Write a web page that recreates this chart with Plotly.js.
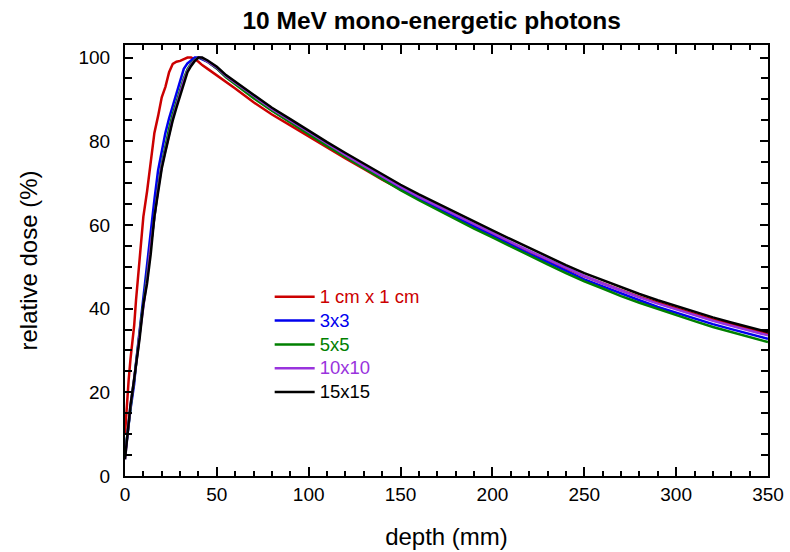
<!DOCTYPE html>
<html>
<head>
<meta charset="utf-8">
<script src="https://cdn.plot.ly/plotly-3.0.1.min.js"></script>
<style>html,body{margin:0;padding:0;background:#fff;}#chart{width:790px;height:552px;}</style>
</head>
<body>
<div id="chart"></div>
<script>
const depth = [0,1,2,3,4,5,6,7,8,9,10,12,14,16,18,20,22,24,26,28,30,32,34,36,38,40,42,45,50,55,60,70,80,90,100,110,120,130,140,150,160,170,180,190,200,210,220,230,240,250,260,270,280,290,300,310,320,330,340,350];

const dose1x1 = [10,17,23,28,32,36,42,47,52,57,62,68,75,82,86,90.5,93,96.5,98.5,99,99.2,99.6,100,100,99.6,99,98.2,97.3,95.8,94.2,92.6,89.3,86.4,83.8,81.1,78.5,75.9,73.4,70.8,68.5,66.2,64.0,61.8,59.7,57.7,55.7,53.6,51.7,49.6,47.7,46.0,44.4,42.8,41.4,40.0,38.7,37.4,36.3,35.1,34.0];

const dose3x3 = [5,9,13,16,19,22,27,31,35,38,42,50,59,66,73,78,82,85.5,88.5,91.5,94.5,97.3,98.6,99.3,100,100,99.6,99.0,97.4,95.4,93.8,90.5,87.4,84.7,81.9,79.1,76.4,73.7,71.1,68.6,66.2,64.0,61.8,59.5,57.4,55.3,53.1,51.1,49.0,47.0,45.3,43.6,42.0,40.4,39.0,37.6,36.3,35.1,33.9,32.8];

const dose5x5 = [5,9,13,17,20,23,27,30,34,38,41,48,56,63,69,74.5,79,83,86.5,89.5,92.5,95,97.2,98.6,99.5,100,99.8,99.0,97.4,95.3,93.6,90.3,87.3,84.6,81.7,78.9,76.2,73.5,70.8,68.3,65.9,63.6,61.4,59.1,57.0,54.8,52.7,50.6,48.5,46.5,44.8,43.0,41.4,39.9,38.4,37.0,35.6,34.4,33.2,32.0];

const dose10x10 = [4,9,13,17,20,23,26,30,34,37,41,47,55,62.5,68.5,74,78,82,85.5,88.5,91.5,94.5,96.8,98.3,99.4,100,99.9,99.1,97.6,95.6,94.0,90.7,87.7,85.0,82.2,79.3,76.7,74.1,71.5,69.1,66.7,64.5,62.3,60.1,58.1,55.9,53.8,51.8,49.7,47.8,46.0,44.3,42.7,41.2,39.8,38.4,37.1,35.9,34.7,33.6];

const dose15x15 = [4,9,13,17,20,23,26,29,33,37,41,46,53,62,68,73.5,77.5,81.5,85,88,91,94,96.5,98,99.2,100,100,99.3,97.8,95.8,94.2,91.0,88.0,85.3,82.5,79.8,77.2,74.6,72.0,69.6,67.3,65.1,62.9,60.7,58.7,56.6,54.5,52.5,50.4,48.5,46.8,45.1,43.5,42.0,40.6,39.2,37.9,36.7,35.5,34.4];

const seriesNames = ['1 cm x 1 cm','3x3','5x5','10x10','15x15'];
const seriesColors = ['#cc0000','#0000ee','#008000','#9933dd','#000000'];
const seriesData = [dose1x1, dose3x3, dose5x5, dose10x10, dose15x15];

const traces = seriesData.map((d, i) => ({
  x: depth, y: d, type: 'scatter', mode: 'lines',
  line: {color: seriesColors[i], width: 2.5, shape: 'linear'},
  name: '<span style="color:' + seriesColors[i] + ';font-size:18.5px">' + seriesNames[i] + '</span>'
}));

const font = 'Liberation Sans, Arial, sans-serif';
const layout = {
  width: 790, height: 552,
  margin: {l: 125, r: 22, t: 45, b: 76},
  paper_bgcolor: '#fff', plot_bgcolor: '#fff',
  font: {family: font, color: '#000', size: 19},
  title: {text: '<b>10 MeV mono-energetic photons</b>', font: {family: font, size: 24.5, color: '#000'},
          x: 0.477, xref: 'paper', xanchor: 'center', y: 0.963, yanchor: 'middle'},
  showlegend: true,
  legend: {x: 0.225, y: 0.455, xanchor: 'left', yanchor: 'top', bgcolor: 'rgba(0,0,0,0)',
           font: {family: font, size: 16}, tracegroupgap: 0, itemwidth: 40},
  xaxis: {
    range: [0, 350], tickvals: [0,50,100,150,200,250,300,350],
    showgrid: false, zeroline: false, showline: true, linecolor: '#000', linewidth: 2,
    mirror: 'ticks', ticks: 'inside', ticklen: 9, tickwidth: 2, tickcolor: '#000',
    minor: {dtick: 10, ticks: 'inside', ticklen: 5, tickwidth: 2, tickcolor: '#000', showgrid: false},
    tickfont: {family: font, size: 19},
    title: {text: 'depth (mm)', font: {family: font, size: 24}, standoff: 24}
  },
  yaxis: {
    range: [0, 103], tickvals: [0,20,40,60,80,100],
    showgrid: false, zeroline: false, showline: true, linecolor: '#000', linewidth: 2,
    mirror: 'ticks', ticks: 'inside', ticklen: 8, tickwidth: 2, tickcolor: '#000',
    minor: {dtick: 5, ticks: 'inside', ticklen: 7, tickwidth: 2, tickcolor: '#000', showgrid: false},
    tickfont: {family: font, size: 19}, ticklabelstandoff: 9,
    title: {text: 'relative dose (%)', font: {family: font, size: 24}, standoff: 34}
  }
};

Plotly.newPlot('chart', traces, layout, {displayModeBar: false, staticPlot: true});
</script>
</body>
</html>
